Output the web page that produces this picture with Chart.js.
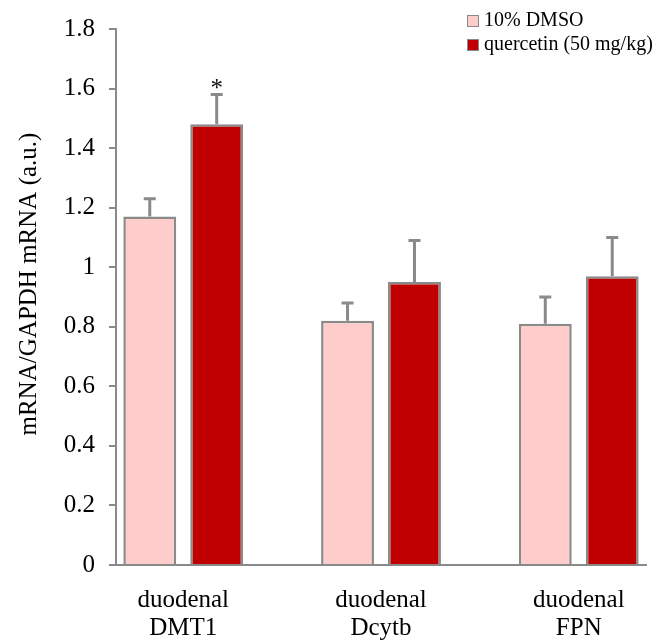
<!DOCTYPE html>
<html><head><meta charset="utf-8">
<script src="https://cdn.jsdelivr.net/npm/chart.js@4/dist/chart.umd.min.js"></script>
<style>html,body{margin:0;padding:0;background:#fff;}</style>
</head><body>
<canvas id="c" width="665" height="642"></canvas>
<script>
const categories = [["duodenal","DMT1"],["duodenal","Dcytb"],["duodenal","FPN"]];
const seriesNames = ["10% DMSO","quercetin (50 mg/kg)"];
const dmsoValues = [1.17, 0.82, 0.81];
const dmsoErrors = [0.06, 0.06, 0.09];
const quercetinValues = [1.48, 0.95, 0.97];
const quercetinErrors = [0.10, 0.14, 0.13];
const quercetinMarks = ["*", "", ""];
const yTickValues = [0, 0.2, 0.4, 0.6, 0.8, 1.0, 1.2, 1.4, 1.6, 1.8];
const yTickLabels = ["0","0.2","0.4","0.6","0.8","1","1.2","1.4","1.6","1.8"];
const yTitle = "mRNA/GAPDH mRNA (a.u.)";

const GRAY = '#8a8a8a';
const SERIF = '"Liberation Serif", "Times New Roman", serif';

const errorBars = {
  id: 'errorBars',
  afterDatasetsDraw(chart) {
    const ctx = chart.ctx, ys = chart.scales.y;
    chart.data.datasets.forEach((ds, di) => {
      const meta = chart.getDatasetMeta(di);
      meta.data.forEach((bar, i) => {
        const v = ds.data[i].y, e = ds.errors[i];
        const yTop = ys.getPixelForValue(v + e);
        ctx.save();
        ctx.strokeStyle = GRAY; ctx.lineWidth = 3;
        ctx.beginPath();
        ctx.moveTo(bar.x, bar.y); ctx.lineTo(bar.x, yTop);
        ctx.moveTo(bar.x - 6, yTop); ctx.lineTo(bar.x + 6, yTop);
        ctx.stroke();
        if (ds.marks && ds.marks[i]) {
          ctx.fillStyle = '#111';
          ctx.font = '25px ' + SERIF;
          ctx.textAlign = 'center'; ctx.textBaseline = 'alphabetic';
          ctx.fillText(ds.marks[i], bar.x, yTop + 1);
        }
        ctx.restore();
      });
    });
  }
};

const boxLegend = {
  id: 'boxLegend',
  afterDraw(chart) {
    const ctx = chart.ctx;
    ctx.save();
    chart.data.datasets.forEach((ds, i) => {
      const y = 15 + i * 24;
      ctx.fillStyle = ds.backgroundColor;
      ctx.fillRect(467, y, 12, 12);
      ctx.strokeStyle = GRAY; ctx.lineWidth = 1;
      ctx.strokeRect(467.5, y + 0.5, 11, 11);
      ctx.fillStyle = '#000';
      ctx.font = '20px ' + SERIF;
      ctx.textAlign = 'left'; ctx.textBaseline = 'alphabetic';
      ctx.fillText(ds.label, 484, y + 11);
    });
    ctx.restore();
  }
};

const yTitlePlugin = {
  id: 'yTitlePlugin',
  afterDraw(chart) {
    const ctx = chart.ctx;
    ctx.save();
    ctx.translate(29, 284);
    ctx.rotate(-Math.PI / 2);
    ctx.fillStyle = '#000';
    ctx.font = '25px ' + SERIF;
    ctx.textAlign = 'center'; ctx.textBaseline = 'middle';
    ctx.fillText(yTitle, 0, 0);
    ctx.restore();
  }
};

new Chart(document.getElementById('c'), {
  type: 'bar',
  data: {
    datasets: [
      { label: seriesNames[0], data: dmsoValues.map((v, i) => ({x: i, y: v})), errors: dmsoErrors,
        backgroundColor: '#FFCCCC', borderColor: GRAY, borderWidth: 2.5,
        categoryPercentage: 0.677, barPercentage: 0.79 },
      { label: seriesNames[1], data: quercetinValues.map((v, i) => ({x: i, y: v})), errors: quercetinErrors,
        marks: quercetinMarks,
        backgroundColor: '#C00000', borderColor: GRAY, borderWidth: 2.5,
        categoryPercentage: 0.677, barPercentage: 0.79 }
    ]
  },
  options: {
    responsive: false, animation: false, devicePixelRatio: 1,
    layout: { padding: { left: 0, right: 19, top: 28, bottom: 0 } },
    plugins: { legend: { display: false }, tooltip: { enabled: false } },
    scales: {
      x: {
        type: 'linear', min: -0.34, max: 2.34, offset: false,
        afterBuildTicks: s => { s.ticks = categories.map((_, i) => ({ value: i })); },
        afterFit: s => { s.height = 77; },
        ticks: { callback: v => categories[v], color: '#000', padding: 14, maxRotation: 0, autoSkip: false,
                 font: { family: SERIF, size: 25, lineHeight: 1.1 } },
        grid: { display: false, offset: false },
        border: { display: true, color: GRAY, width: 2 }
      },
      y: {
        min: 0, max: 1.8,
        afterBuildTicks: s => { s.ticks = yTickValues.map(v => ({ value: v })); },
        afterFit: s => { s.width = 116; },
        ticks: { callback: (v, i) => yTickLabels[i], color: '#000', padding: 14,
                 font: { family: SERIF, size: 25 } },
        grid: { display: true, drawOnChartArea: false, drawTicks: true, tickLength: 7, color: GRAY, lineWidth: 2 },
        border: { display: true, color: GRAY, width: 2 }
      }
    }
  },
  plugins: [errorBars, boxLegend, yTitlePlugin]
});
</script>
</body></html>
